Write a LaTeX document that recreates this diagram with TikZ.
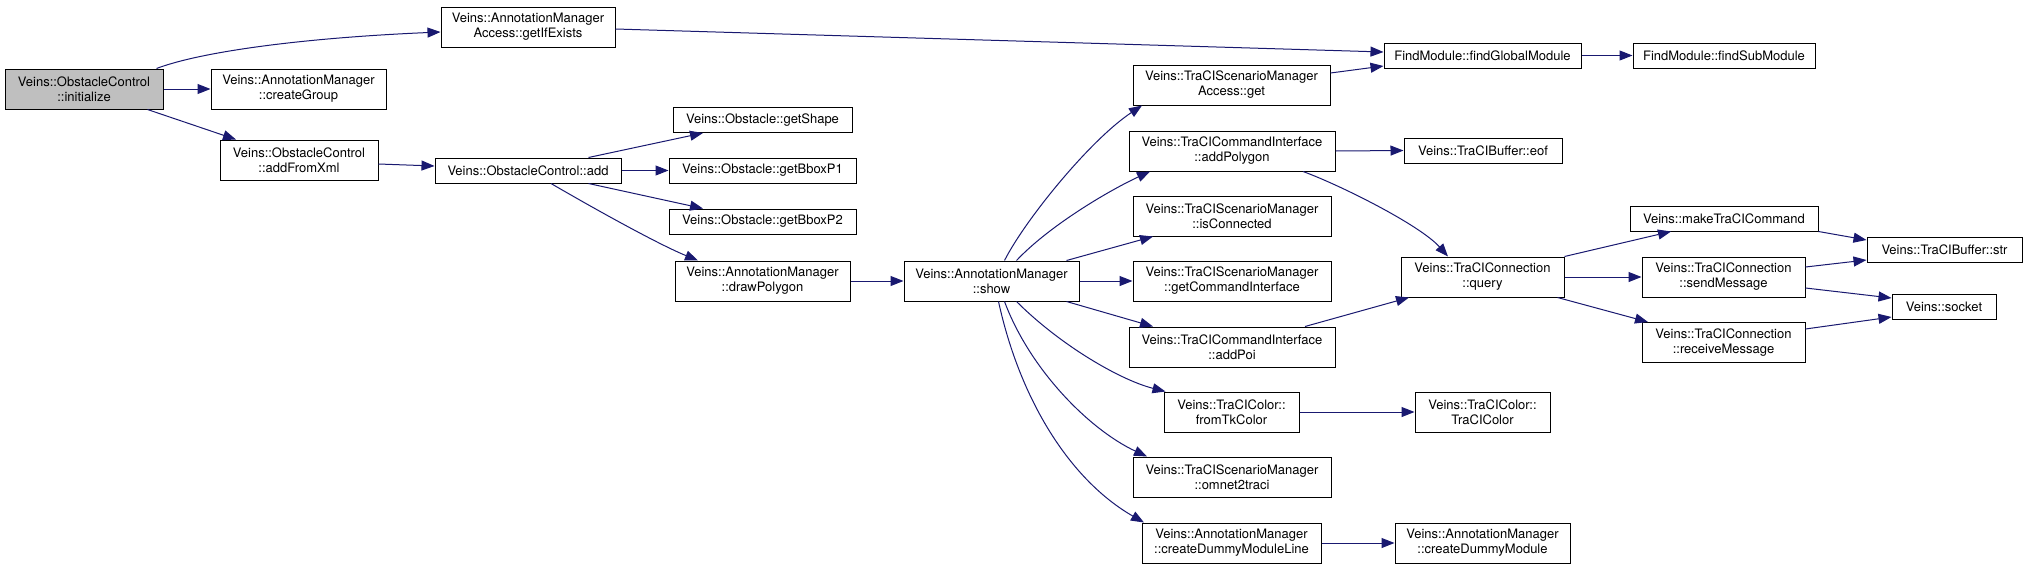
\documentclass[tikz,border=0pt]{standalone}
\usepackage{fontspec}
\setmainfont{TeX Gyre Heros}
\usetikzlibrary{arrows.meta}
\definecolor{edgeblue}{HTML}{191970}
\definecolor{rootgray}{HTML}{BFBFBF}
\tikzset{
  box/.style={draw=black, fill=white, line width=1pt, inner sep=0pt, align=center,
    font=\fontsize{13}{15}\selectfont},
  rootbox/.style={box, fill=rootgray},
  edge/.style={draw=edgeblue, line width=1pt, -{Triangle[length=13pt,width=10pt]}},
}
\begin{document}
\begin{tikzpicture}[x=1pt,y=-1pt]
\useasboundingbox (0,0) rectangle (2027,568);
\fill[white] (0,0) rectangle (2027,568);
% nodes
\node[rootbox, minimum width=158pt, minimum height=40pt] (init) at (84,89) {Veins::ObstacleControl\\::initialize};
\node[box, minimum width=174pt, minimum height=40pt] (getIfExists) at (528,27) {Veins::AnnotationManager\\Access::getIfExists};
\node[box, minimum width=175pt, minimum height=40pt] (createGroup) at (298.5,89) {Veins::AnnotationManager\\::createGroup};
\node[box, minimum width=158pt, minimum height=40pt] (addFromXml) at (299,160) {Veins::ObstacleControl\\::addFromXml};
\node[box, minimum width=186pt, minimum height=25pt] (add) at (528,170.5) {Veins::ObstacleControl::add};
\node[box, minimum width=179pt, minimum height=25pt] (getShape) at (762.5,120) {Veins::Obstacle::getShape};
\node[box, minimum width=187pt, minimum height=25pt] (getBboxPA) at (762.5,170.5) {Veins::Obstacle::getBboxP1};
\node[box, minimum width=187pt, minimum height=25pt] (getBboxPB) at (762.5,221.5) {Veins::Obstacle::getBboxP2};
\node[box, minimum width=175pt, minimum height=40pt] (drawPolygon) at (762.5,281) {Veins::AnnotationManager\\::drawPolygon};
\node[box, minimum width=175pt, minimum height=40pt] (show) at (991.5,281) {Veins::AnnotationManager\\::show};
\node[box, minimum width=197pt, minimum height=40pt] (accessGet) at (1231.5,85) {Veins::TraCIScenarioManager\\Access::get};
\node[box, minimum width=206pt, minimum height=40pt] (addPolygon) at (1232,151) {Veins::TraCICommandInterface\\::addPolygon};
\node[box, minimum width=198pt, minimum height=40pt] (isConnected) at (1232,216) {Veins::TraCIScenarioManager\\::isConnected};
\node[box, minimum width=198pt, minimum height=40pt] (getCmdIf) at (1232,281) {Veins::TraCIScenarioManager\\::getCommandInterface};
\node[box, minimum width=206pt, minimum height=40pt] (addPoi) at (1232,347) {Veins::TraCICommandInterface\\::addPoi};
\node[box, minimum width=135pt, minimum height=40pt] (fromTk) at (1231.5,412) {Veins::TraCIColor::\\fromTkColor};
\node[box, minimum width=198pt, minimum height=40pt] (omnet) at (1232,477) {Veins::TraCIScenarioManager\\::omnet2traci};
\node[box, minimum width=179pt, minimum height=40pt] (dummyLine) at (1231.5,543) {Veins::AnnotationManager\\::createDummyModuleLine};
\node[box, minimum width=197pt, minimum height=25pt] (findGlobal) at (1482.5,55.5) {FindModule::findGlobalModule};
\node[box, minimum width=182pt, minimum height=25pt] (findSub) at (1724,55.5) {FindModule::findSubModule};
\node[box, minimum width=158pt, minimum height=25pt] (eof) at (1483,150.5) {Veins::TraCIBuffer::eof};
\node[box, minimum width=163pt, minimum height=40pt] (query) at (1482.5,277) {Veins::TraCIConnection\\::query};
\node[box, minimum width=135pt, minimum height=40pt] (traciColor) at (1482.5,412) {Veins::TraCIColor::\\TraCIColor};
\node[box, minimum width=175pt, minimum height=40pt] (dummy) at (1482.5,543) {Veins::AnnotationManager\\::createDummyModule};
\node[box, minimum width=188pt, minimum height=25pt] (makeCmd) at (1724,218.5) {Veins::makeTraCICommand};
\node[box, minimum width=163pt, minimum height=40pt] (sendMsg) at (1723.5,277) {Veins::TraCIConnection\\::sendMessage};
\node[box, minimum width=163pt, minimum height=40pt] (recvMsg) at (1723.5,342.5) {Veins::TraCIConnection\\::receiveMessage};
\node[box, minimum width=155pt, minimum height=25pt] (str) at (1944.5,249.5) {Veins::TraCIBuffer::str};
\node[box, minimum width=104pt, minimum height=25pt] (socket) at (1944,306.5) {Veins::socket};
% edges
\draw[edge] ([xshift=-7pt]init.north east) .. controls (200,52) and (300,38) .. ([yshift=-5pt]getIfExists.west);
\draw[edge] (init.east) -- (createGroup.west);
\draw[edge] ([xshift=-16pt]init.south east) -- ([xshift=-63pt]addFromXml.north);
\draw[edge] ([yshift=-2pt]getIfExists.east) -- ([yshift=3.5pt]findGlobal.west);
\draw[edge] ([yshift=-4pt]addFromXml.east) -- ([yshift=4.5pt]add.west);
\draw[edge] ([xshift=-33pt]add.north east) -- ([xshift=-59.5pt]getShape.south);
\draw[edge] (add.east) -- (getBboxPA.west);
\draw[edge] ([xshift=-33pt]add.south east) -- ([xshift=-59.5pt]getBboxPB.north);
\draw[edge] ([xshift=23pt]add.south) .. controls (600,212) and (660,245) .. ([xshift=-64.5pt]drawPolygon.north);
\draw[edge] (drawPolygon.east) -- (show.west);
\draw[edge] ([xshift=13pt]show.north) .. controls (1025,220) and (1090,140) .. ([xshift=-89.5pt]accessGet.south);
\draw[edge] ([xshift=25pt]show.north) .. controls (1050,225) and (1110,190) .. ([xshift=-82pt]addPolygon.south);
\draw[edge] ([xshift=-13pt]show.north east) -- ([xshift=-79pt]isConnected.south);
\draw[edge] (show.east) -- (getCmdIf.west);
\draw[edge] ([xshift=-13pt]show.south east) -- ([xshift=-79pt]addPoi.north);
\draw[edge] ([xshift=25pt]show.south) .. controls (1060,345) and (1120,380) .. ([xshift=2pt]fromTk.north west);
\draw[edge] ([xshift=13pt]show.south) .. controls (1030,370) and (1090,430) .. ([xshift=-85pt]omnet.north);
\draw[edge] ([xshift=7pt]show.south) .. controls (1020,400) and (1070,480) .. ([xshift=-87.5pt]dummyLine.north);
\draw[edge] ([yshift=12pt]accessGet.east) -- ([yshift=-10.5pt]findGlobal.west);
\draw[edge] (findGlobal.east) -- (findSub.west);
\draw[edge] (addPolygon.east) -- (eof.west);
\draw[edge] ([xshift=71pt]addPolygon.south) .. controls (1340,185) and (1420,225) .. ([xshift=-34.5pt]query.north);
\draw[edge] ([xshift=73pt]addPoi.north) -- ([xshift=-73.5pt]query.south);
\draw[edge] (fromTk.east) -- (traciColor.west);
\draw[edge] (dummyLine.east) -- (dummy.west);
\draw[edge] (query.north east) -- ([xshift=-53pt]makeCmd.south);
\draw[edge] (query.east) -- (sendMsg.west);
\draw[edge] ([xshift=-7pt]query.south east) -- ([xshift=-75.5pt]recvMsg.north);
\draw[edge] (makeCmd.south east) -- ([yshift=9.5pt]str.west);
\draw[edge] ([yshift=10pt]sendMsg.east) -- ([yshift=-10.5pt]str.west);
\draw[edge] ([yshift=-11pt]sendMsg.east) -- ([yshift=8.5pt]socket.west);
\draw[edge] ([yshift=13.5pt]recvMsg.east) -- ([yshift=-10.5pt]socket.west);
\end{tikzpicture}
\end{document}
